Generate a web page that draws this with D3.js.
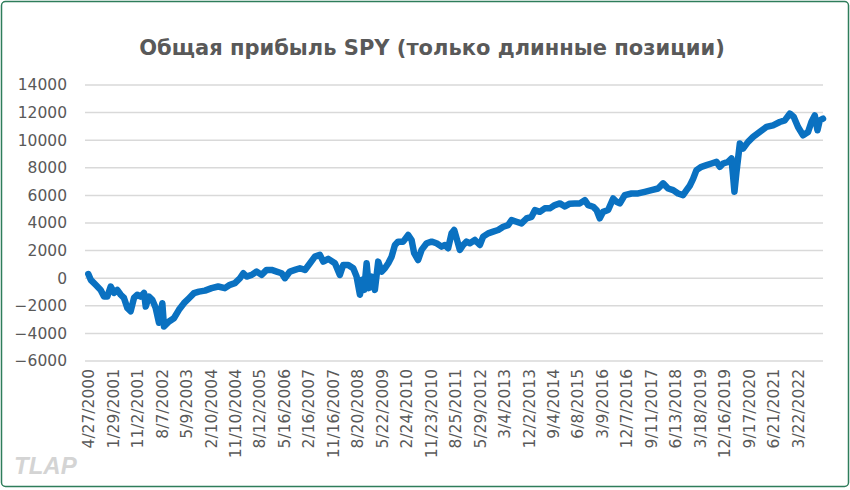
<!DOCTYPE html>
<html>
<head>
<meta charset="utf-8">
<script src="https://cdn.jsdelivr.net/npm/d3@7"></script>
<style>
  html, body { margin: 0; padding: 0; background: #ffffff; }
  svg { display: block; }
</style>
</head>
<body>
<svg id="chart" width="850" height="490"></svg>
<script>
// ---- data ----
const chartTitle = "Общая прибыль SPY (только длинные позиции)";
const tickLabels = ["4/27/2000","1/29/2001","11/2/2001","8/7/2002","5/9/2003","2/10/2004","11/10/2004","8/12/2005","5/16/2006","2/16/2007","11/16/2007","8/20/2008","5/22/2009","2/24/2010","11/23/2010","8/25/2011","5/29/2012","3/4/2013","12/2/2013","9/4/2014","6/8/2015","3/9/2016","12/7/2016","9/11/2017","6/13/2018","3/18/2019","12/16/2019","9/17/2020","6/21/2021","3/22/2022"];
const tradingDaysPerLabel = 190;
const lastTradingDay = 5707;
const yTicks = [-6000,-4000,-2000,0,2000,4000,6000,8000,10000,12000,14000];
// trading-day index (from 4/27/2000) of each reading
const tradingDay = [0,19,57,96,122,148,174,200,225,252,277,303,329,355,380,407,433,446,471,497,523,549,575,588,627,665,704,743,782,821,860,906,958,1009,1061,1100,1139,1178,1204,1230,1269,1308,1346,1385,1424,1463,1502,1527,1566,1605,1644,1683,1722,1760,1799,1825,1864,1916,1954,1980,2019,2058,2084,2110,2128,2143,2162,2180,2201,2226,2252,2278,2304,2330,2356,2382,2407,2446,2485,2511,2531,2562,2589,2628,2667,2705,2744,2770,2795,2822,2842,2861,2886,2912,2938,2964,3003,3042,3067,3106,3145,3184,3223,3261,3288,3326,3365,3404,3443,3469,3507,3546,3585,3624,3663,3702,3740,3779,3818,3857,3883,3921,3948,3973,3999,4038,4077,4103,4129,4167,4220,4271,4323,4375,4426,4465,4504,4543,4581,4620,4647,4672,4698,4724,4763,4802,4841,4880,4905,4931,4970,4996,5008,5019,5035,5061,5086,5125,5164,5216,5268,5319,5371,5410,5449,5480,5513,5552,5591,5617,5643,5664,5682,5707];
// cumulative profit
const profit = [300,-120,-480,-850,-1330,-1330,-600,-1060,-850,-1200,-1430,-2150,-2400,-1430,-1200,-1330,-1060,-2050,-1330,-1570,-2150,-3230,-1810,-3500,-3140,-2900,-2290,-1810,-1450,-1080,-970,-900,-720,-600,-720,-480,-360,0,360,120,240,480,240,600,600,480,360,0,480,600,720,600,1080,1560,1690,1200,1400,1080,240,960,960,720,120,-1200,-120,-850,1080,-720,120,-850,1200,480,720,1080,1560,2410,2650,2650,3130,2770,1810,1320,2050,2530,2650,2530,2290,2400,2170,3250,3490,2890,2050,2410,2650,2530,2770,2410,3010,3250,3370,3490,3730,3850,4210,4090,3970,4330,4450,4930,4810,5060,5060,5300,5420,5200,5400,5420,5420,5660,5300,5180,4940,4340,4810,4940,5780,5540,5420,6020,6140,6140,6260,6380,6500,6870,6500,6380,6140,6020,6380,6700,7200,7830,8070,8190,8310,8430,8070,8310,8430,8680,7470,6260,7710,9760,9400,9880,10240,10600,10960,11080,11320,11440,11930,11680,10960,10360,10600,11320,11800,10720,11440,11560];

const series = tradingDay.map((d, i) => ({ day: d, value: profit[i] }));

// ---- drawing ----
const svg = d3.select("#chart");
const W = 850, H = 490;
const plot = { left: 85, right: 823, top: 85, bottom: 361 };
const FONT = "'DejaVu Sans', 'Liberation Sans', sans-serif";
const TEXT = "#595959";

svg.append("rect").attr("x", 0).attr("y", 0).attr("width", W).attr("height", H).attr("fill", "#fff");
svg.append("rect")
  .attr("x", 1.5).attr("y", 1.5).attr("width", W - 3).attr("height", H - 5)
  .attr("rx", 4).attr("fill", "none").attr("stroke", "#2e7d5b").attr("stroke-width", 1.5);

const x = d3.scaleLinear().domain([0, lastTradingDay]).range([88.3, 823]);
const y = d3.scaleLinear().domain([-6000, 14000]).range([plot.bottom, plot.top]);

// gridlines
svg.append("g").selectAll("line").data(yTicks).join("line")
  .attr("x1", plot.left).attr("x2", plot.right)
  .attr("y1", d => y(d)).attr("y2", d => y(d))
  .attr("stroke", "#d9d9d9").attr("stroke-width", 1.5);

// y axis labels
const yAxis = d3.axisLeft(y).tickValues(yTicks).tickSize(0).tickPadding(0).tickFormat(d3.format("d"));
const gy = svg.append("g").attr("transform", `translate(${67},0)`).call(yAxis);
gy.select(".domain").remove();
gy.selectAll("text").attr("fill", TEXT).style("font-family", FONT).style("font-size", "15.5px");

// x axis labels (category labels every 190 trading days)
const xTickVals = tickLabels.map((_, i) => i * tradingDaysPerLabel);
const xAxis = d3.axisBottom(x).tickValues(xTickVals).tickSize(0).tickFormat((d, i) => tickLabels[i]);
const gx = svg.append("g").attr("transform", `translate(0,${plot.bottom})`).call(xAxis);
gx.select(".domain").remove();
gx.selectAll("text")
  .attr("fill", TEXT).style("font-family", FONT).style("font-size", "15.5px")
  .attr("text-anchor", "end")
  .attr("transform", "rotate(-90)")
  .attr("x", -8).attr("y", 0).attr("dy", "0.35em");

// line
const line = d3.line().x(d => x(d.day)).y(d => y(d.value));
svg.append("path").datum(series)
  .attr("d", line)
  .attr("fill", "none")
  .attr("stroke", "#0a71c1")
  .attr("stroke-width", 6.5)
  .attr("stroke-linejoin", "round")
  .attr("stroke-linecap", "round");

// title
svg.append("text")
  .attr("x", 432).attr("y", 55)
  .attr("text-anchor", "middle")
  .attr("fill", TEXT)
  .style("font-family", FONT).style("font-weight", "bold").style("font-size", "21px")
  .text(chartTitle);

// watermark
svg.append("text")
  .attr("x", 14).attr("y", 474)
  .attr("fill", "#d4d4d4")
  .style("font-family", "'Liberation Sans', Arial, sans-serif")
  .style("font-weight", "bold").style("font-style", "italic").style("font-size", "24px")
  .text("TLAP");
</script>
</body>
</html>
